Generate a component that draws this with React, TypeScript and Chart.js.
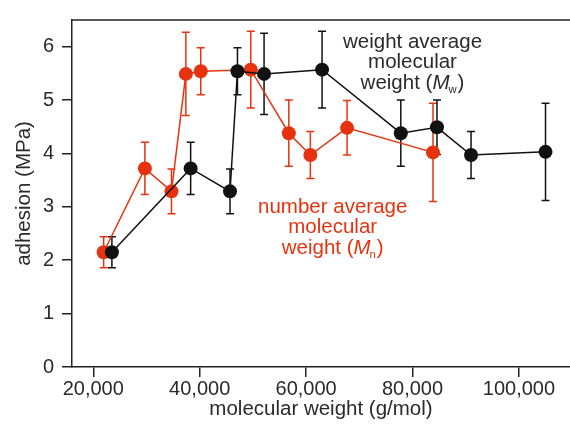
import React, { useEffect, useRef } from "react";
import { Chart, registerables } from "chart.js";

Chart.register(...registerables);

// Weight average molecular weight (Mw) series
const mwX = [23500, 38300, 45700, 47100, 52100, 63000, 77800, 84600, 91000, 105000];
const mwY = [2.15, 3.72, 3.29, 5.54, 5.49, 5.57, 4.38, 4.49, 3.97, 4.03];
const mwErr = [0.29, 0.49, 0.42, 0.44, 0.76, 0.72, 0.62, 0.51, 0.44, 0.91];

// Number average molecular weight (Mn) series
const mnX = [21950, 29700, 34700, 37400, 40200, 49600, 56750, 60800, 67700, 83850];
const mnY = [2.15, 3.72, 3.29, 5.49, 5.54, 5.57, 4.38, 3.97, 4.48, 4.02];
const mnErr = [0.29, 0.49, 0.42, 0.78, 0.44, 0.72, 0.62, 0.44, 0.51, 0.92];

const xTicks = [20000, 40000, 60000, 80000, 100000];
const yTicks = [0, 1, 2, 3, 4, 5, 6];

const BLACK = "#111111";
const RED = "#e5330f";
const TEXT = "#2a2a2a";
const FONT = "'Liberation Sans', Arial, Helvetica, sans-serif";

const extras = {
  id: "extras",
  beforeDatasetsDraw(chart: any) {
    const ctx = chart.ctx;
    const xs = chart.scales.x;
    const ys = chart.scales.y;
    const draw = (X: number[], Y: number[], E: number[], color: string) => {
      ctx.save();
      ctx.strokeStyle = color;
      ctx.lineWidth = 1.5;
      for (let i = 0; i < X.length; i++) {
        const px = xs.getPixelForValue(X[i]);
        const top = ys.getPixelForValue(Y[i] + E[i]);
        const bot = ys.getPixelForValue(Y[i] - E[i]);
        ctx.beginPath();
        ctx.moveTo(px, top);
        ctx.lineTo(px, bot);
        ctx.moveTo(px - 4, top);
        ctx.lineTo(px + 4, top);
        ctx.moveTo(px - 4, bot);
        ctx.lineTo(px + 4, bot);
        ctx.stroke();
      }
      ctx.restore();
    };
    draw(mnX, mnY, mnErr, RED);
    draw(mwX, mwY, mwErr, BLACK);
  },
  afterDraw(chart: any) {
    const ctx = chart.ctx;
    const ca = chart.chartArea;
    const xs = chart.scales.x;
    const ys = chart.scales.y;
    ctx.save();
    ctx.strokeStyle = "#222";
    ctx.lineWidth = 1.5;
    ctx.beginPath();
    ctx.moveTo(ca.left, ca.top);
    ctx.lineTo(ca.right, ca.top);
    ctx.stroke();

    const size = 20.5;
    const lineH = 20.5;
    const label = (cx: number, cy: number, first: string, sub: string, color: string) => {
      ctx.fillStyle = color;
      ctx.textBaseline = "middle";
      ctx.textAlign = "center";
      ctx.font = `${size}px ${FONT}`;
      ctx.fillText(first, cx, cy);
      ctx.fillText("molecular", cx, cy + lineH);
      const y3 = cy + 2 * lineH;
      const a = "weight (";
      const m = "M";
      const c = ")";
      ctx.font = `${size}px ${FONT}`;
      const wa = ctx.measureText(a).width;
      const wc = ctx.measureText(c).width;
      ctx.font = `italic ${size}px ${FONT}`;
      const wm = ctx.measureText(m).width;
      ctx.font = `${size * 0.55}px ${FONT}`;
      const ws = ctx.measureText(sub).width;
      const total = wa + wm + ws + wc;
      let x = cx - total / 2;
      ctx.textAlign = "left";
      ctx.font = `${size}px ${FONT}`;
      ctx.fillText(a, x, y3);
      x += wa;
      ctx.font = `italic ${size}px ${FONT}`;
      ctx.fillText(m, x, y3);
      x += wm - 1;
      ctx.font = `${size * 0.55}px ${FONT}`;
      ctx.fillText(sub, x, y3 + 7);
      x += ws + 1;
      ctx.font = `${size}px ${FONT}`;
      ctx.fillText(c, x, y3);
    };
    label(xs.getPixelForValue(80000), ys.getPixelForValue(6.09), "weight average", "w", TEXT);
    label(xs.getPixelForValue(65000), ys.getPixelForValue(3.0), "number average", "n", RED);
    ctx.restore();
  },
};

export default function App() {
  const ref = useRef<HTMLCanvasElement | null>(null);
  useEffect(() => {
    if (!ref.current) return;
    const chart = new Chart(ref.current, {
      type: "scatter",
      data: {
        datasets: [
          {
            label: "Mw",
            data: mwX.map((x, i) => ({ x, y: mwY[i] })),
            showLine: true,
            borderColor: BLACK,
            backgroundColor: BLACK,
            borderWidth: 1.5,
            pointRadius: 7,
            pointBorderWidth: 0,
            pointBackgroundColor: BLACK,
          },
          {
            label: "Mn",
            data: mnX.map((x, i) => ({ x, y: mnY[i] })),
            showLine: true,
            borderColor: RED,
            backgroundColor: RED,
            borderWidth: 1.5,
            pointRadius: 7,
            pointBorderWidth: 0,
            pointBackgroundColor: RED,
          },
        ],
      },
      options: {
        responsive: false,
        animation: false,
        layout: { autoPadding: false, padding: { top: 15, right: 0, left: 0, bottom: 0 } },
        plugins: {
          legend: { display: false },
          tooltip: { enabled: false },
        },
        scales: {
          x: {
            type: "linear",
            min: 16000,
            max: 109600,
            afterFit: (s: any) => {
              s.height = 60;
            },
            afterBuildTicks: (s: any) => {
              s.ticks = xTicks.map((v) => ({ value: v }));
            },
            ticks: {
              includeBounds: false,
              color: TEXT,
              font: { family: FONT, size: 20 },
              padding: 0,
              maxRotation: 0,
              callback: (v: any) => Number(v).toLocaleString("en-US"),
            },
            grid: {
              drawOnChartArea: false,
              drawTicks: true,
              tickLength: 10,
              color: "#222",
              lineWidth: 1.5,
            },
            border: { display: true, color: "#222", width: 1.5 },
            title: {
              display: true,
              text: "molecular weight (g/mol)",
              color: TEXT,
              font: { family: FONT, size: 20.5 },
              padding: { top: 0, bottom: 5 },
            },
          },
          y: {
            type: "linear",
            min: 0,
            max: 6.5,
            afterFit: (s: any) => {
              s.width = 72;
            },
            afterBuildTicks: (s: any) => {
              s.ticks = yTicks.map((v) => ({ value: v }));
            },
            ticks: {
              includeBounds: false,
              color: TEXT,
              font: { family: FONT, size: 20 },
              padding: 8,
            },
            grid: {
              drawOnChartArea: false,
              drawTicks: true,
              tickLength: 10,
              color: "#222",
              lineWidth: 1.5,
            },
            border: { display: true, color: "#222", width: 1.5 },
            title: {
              display: true,
              text: "adhesion (MPa)",
              color: TEXT,
              font: { family: FONT, size: 20.5 },
              padding: { top: 12, bottom: 0 },
            },
          },
        },
      },
      plugins: [extras],
    } as any);
    return () => chart.destroy();
  }, []);
  return (
    <div style={{ position: "fixed", left: 0, top: 0, width: 570, height: 427, background: "#fff" }}>
      <canvas ref={ref} width={570} height={427} style={{ display: "block" }} />
    </div>
  );
}
